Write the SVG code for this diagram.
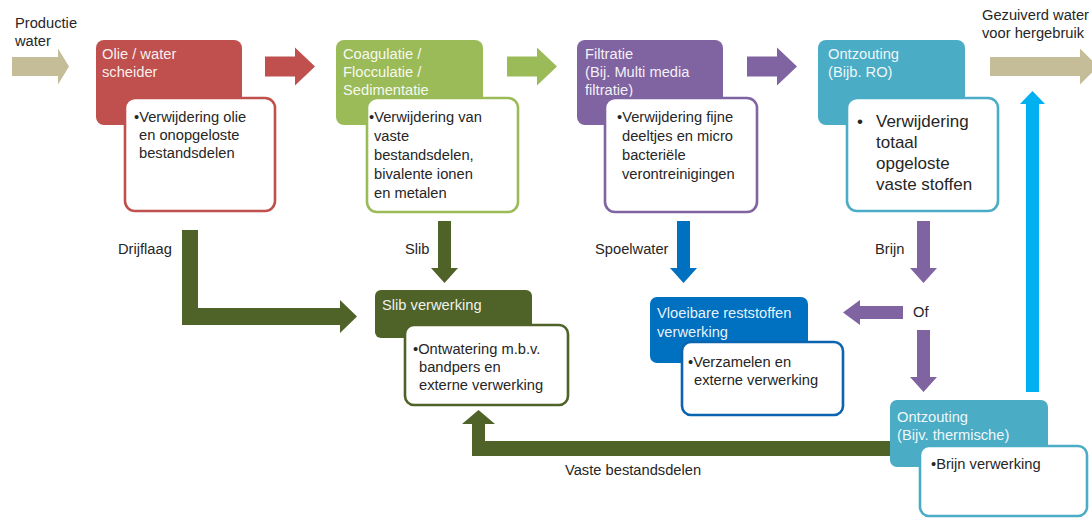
<svg xmlns="http://www.w3.org/2000/svg" width="1092" height="518" viewBox="0 0 1092 518">
<style>
text{font-family:"Liberation Sans",Arial,sans-serif;font-size:14.7px;fill:#262626}
.hd{fill:#ffffff;fill-opacity:0.93}
.big{font-size:17px}
.wb{fill:#ffffff;stroke-width:2.6}
</style>
<rect width="1092" height="518" fill="#ffffff"/>
<g id="connectors">
<polygon fill="#c4bd97" points="12,57 58,57 58,48.5 69,66.5 58,84.5 58,76 12,76"/>
<polygon fill="#c0504d" points="265,56.5 295,56.5 295,47.5 315,66.5 295,85.5 295,76.5 265,76.5"/>
<polygon fill="#9bbb59" points="507,56.5 537,56.5 537,47.5 557,66.5 537,85.5 537,76.5 507,76.5"/>
<polygon fill="#8064a2" points="747,56.5 777,56.5 777,47.5 797,66.5 777,85.5 777,76.5 747,76.5"/>
<polygon fill="#c4bd97" points="990,57 1080,57 1080,48.5 1098,66.5 1080,84.5 1080,76 990,76"/>
<polygon fill="#4f6228" points="182,230 198,230 198,308 340,308 340,300 357,316.5 340,333 340,325 182,325"/>
<polygon fill="#4f6228" points="438,221 451,221 451,268 458,268 444.5,283 431,268 438,268"/>
<polygon fill="#0070c0" points="677,221 690,221 690,268 697,268 683.5,283 670,268 677,268"/>
<polygon fill="#8064a2" points="917,221 930,221 930,268 937,268 923.5,283 910,268 917,268"/>
<polygon fill="#8064a2" points="917,330 930,330 930,377 937,377 923.5,392 910,377 917,377"/>
<polygon fill="#8064a2" points="903,306 903,319 860,319 860,325 843,312.5 860,300 860,306"/>
<polygon fill="#00b0f0" points="1026,392 1039,392 1039,104 1045,104 1032.5,91 1020,104 1026,104"/>
<polygon fill="#4f6228" points="890,441 890,456 472,456 472,424 462,424 478.5,410 495,424 485,424 485,441"/>
</g>
<g id="labels">
<text x="15" y="28">Productie</text>
<text x="15" y="46">water</text>
<text x="982" y="20">Gezuiverd water</text>
<text x="982" y="38">voor hergebruik</text>
<text x="118" y="254">Drijflaag</text>
<text x="405" y="254">Slib</text>
<text x="595" y="254">Spoelwater</text>
<text x="875" y="254">Brijn</text>
<text x="913" y="317">Of</text>
<text x="565" y="475">Vaste bestandsdelen</text>
</g>
<g id="olie-water">
<rect x="96" y="40" width="146" height="85" rx="8" fill="#c0504d"/>
<text class="hd" x="102" y="59">Olie / water</text>
<text class="hd" x="102" y="77">scheider</text>
<rect class="wb" x="125" y="98" width="150" height="113" rx="10" stroke="#c0504d"/>
<text x="134" y="122">•Verwijdering olie</text>
<text x="139" y="140">en onopgeloste</text>
<text x="139" y="158">bestandsdelen</text>
</g>
<g id="coagulatie">
<rect x="336" y="40" width="147" height="85" rx="8" fill="#9bbb59"/>
<text class="hd" x="343" y="59">Coagulatie /</text>
<text class="hd" x="343" y="77">Flocculatie /</text>
<text class="hd" x="343" y="95">Sedimentatie</text>
<rect class="wb" x="367" y="98" width="151" height="114" rx="10" stroke="#9bbb59"/>
<text x="369" y="122">•Verwijdering van</text>
<text x="374" y="141">vaste</text>
<text x="374" y="160">bestandsdelen,</text>
<text x="374" y="179">bivalente ionen</text>
<text x="374" y="198">en metalen</text>
</g>
<g id="filtratie">
<rect x="577" y="40" width="146" height="85" rx="8" fill="#8064a2"/>
<text class="hd" x="585" y="59">Filtratie</text>
<text class="hd" x="585" y="77">(Bij. Multi media</text>
<text class="hd" x="585" y="95">filtratie)</text>
<rect class="wb" x="605" y="98" width="152" height="114" rx="10" stroke="#8064a2"/>
<text x="617" y="122">•Verwijdering fijne</text>
<text x="622" y="141">deeltjes en micro</text>
<text x="622" y="160">bacteriële</text>
<text x="622" y="179">verontreinigingen</text>
</g>
<g id="ontzouting-ro">
<rect x="818" y="40" width="147" height="85" rx="8" fill="#4bacc6"/>
<text class="hd" x="828" y="59">Ontzouting</text>
<text class="hd" x="828" y="77">(Bijb. RO)</text>
<rect class="wb" x="847" y="98" width="151" height="113" rx="10" stroke="#4bacc6"/>
<text class="big" x="857" y="127">•</text>
<text class="big" x="876" y="127">Verwijdering</text>
<text class="big" x="876" y="148">totaal</text>
<text class="big" x="876" y="169">opgeloste</text>
<text class="big" x="876" y="190">vaste stoffen</text>
</g>
<g id="slib-verwerking">
<rect x="375" y="290" width="157" height="48" rx="6" fill="#4f6228"/>
<text class="hd" x="382" y="310">Slib verwerking</text>
<rect class="wb" x="405" y="325" width="163" height="80" rx="9" stroke="#4f6228"/>
<text x="413" y="354">•Ontwatering m.b.v.</text>
<text x="419" y="372">bandpers en</text>
<text x="419" y="390">externe  verwerking</text>
</g>
<g id="vloeibare-reststoffen">
<rect x="650" y="297" width="158" height="66" rx="7" fill="#0070c0"/>
<text class="hd" x="657" y="318">Vloeibare reststoffen</text>
<text class="hd" x="657" y="337">verwerking</text>
<rect class="wb" x="682" y="342" width="161" height="73" rx="9" stroke="#0a64b0"/>
<text x="688" y="367">•Verzamelen en</text>
<text x="694" y="385">externe  verwerking</text>
</g>
<g id="ontzouting-thermisch">
<rect x="890" y="400" width="158" height="67" rx="7" fill="#4bacc6"/>
<text class="hd" x="897" y="422">Ontzouting</text>
<text class="hd" x="897" y="440">(Bijv. thermische)</text>
<rect class="wb" x="920" y="446" width="167" height="70" rx="9" stroke="#4bacc6"/>
<text x="931" y="469">•Brijn verwerking</text>
</g>
</svg>
